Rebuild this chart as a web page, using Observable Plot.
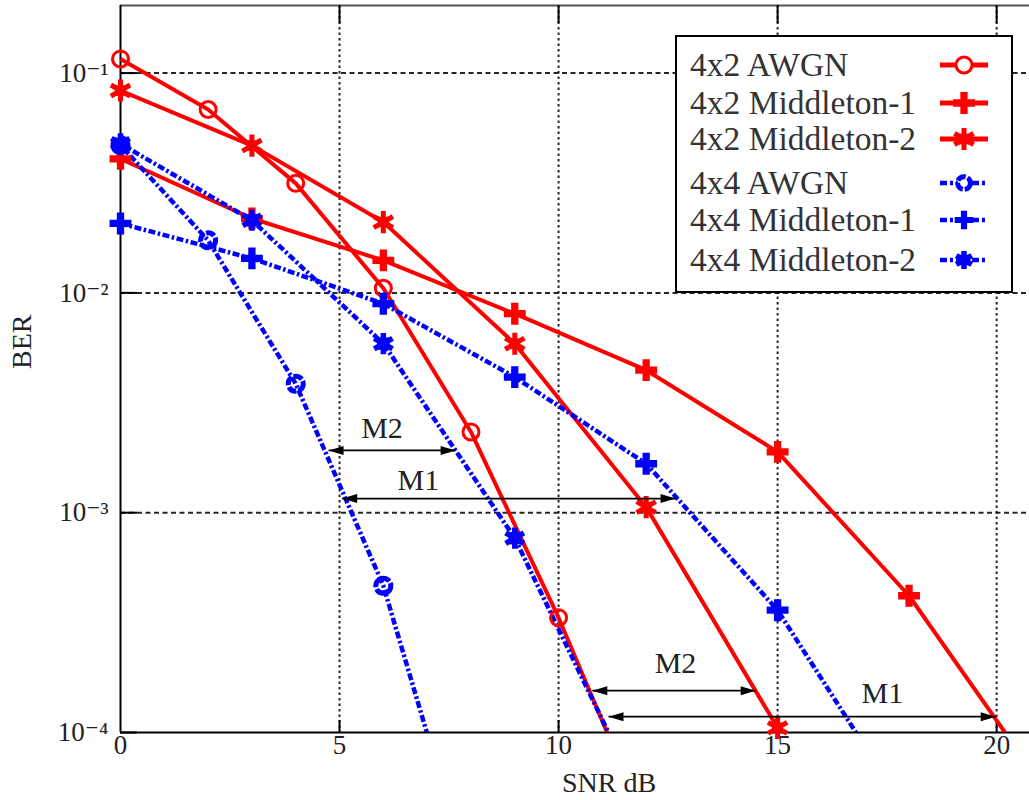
<!DOCTYPE html>
<html><head><meta charset="utf-8">
<script src="https://cdn.jsdelivr.net/npm/d3@7"></script>
<script src="https://cdn.jsdelivr.net/npm/@observablehq/plot@0.6"></script>
<style>
html,body{margin:0;padding:0;background:#fff;overflow:hidden;}
#wrap{position:relative;width:1029px;height:800px;}
#legend{position:absolute;left:675px;top:35px;}
</style></head>
<body><div id="wrap"><div id="chart"></div><svg id="legend" width="338" height="258"></svg></div>
<script>
// ---------- data ----------
const seriesNames = ["4x2 AWGN","4x2 Middleton-1","4x2 Middleton-2","4x4 AWGN","4x4 Middleton-1","4x4 Middleton-2"];
const snr4x2Awgn = [0,2,4,6,8,10,12];
const ber4x2Awgn = [0.116,0.0683,0.0315,0.0105,0.00233,0.000333,0.000038];
const snr4x2M1 = [0,3,6,9,12,15,18,21];
const ber4x2M1 = [0.0407,0.0218,0.01406,0.00804,0.00445,0.00189,0.000419,0.000059];
const snr4x2M2 = [0,3,6,9,12,15];
const ber4x2M2 = [0.0833,0.0468,0.021,0.00587,0.00106,0.000105];
const snr4x4Awgn = [0,2,4,6,8];
const ber4x4Awgn = [0.047,0.01734,0.00386,0.000465,0.000021];
const snr4x4M1 = [0,3,6,9,12,15,18];
const ber4x4M1 = [0.0207,0.01435,0.00893,0.00414,0.00167,0.00036,0.000042];
const snr4x4M2 = [0,3,6,9,12];
const ber4x4M2 = [0.0477,0.0214,0.00588,0.000766,0.000044];

const xTickValues = [0,5,10,15,20];
const xTickLabels = ["0","5","10","15","20"];
const yTickValues = [1e-1,1e-2,1e-3,1e-4];
const yTickLabels = ["10\u207B\u00B9","10\u207B\u00B2","10\u207B\u00B3","10\u207B\u2074"];
const xLabel = "SNR dB";
const yLabel = "BER";

// gap annotations (double arrows)
const gapLabels = ["M2","M1","M2","M1"];
const gapX1 = [4.75,5.06,10.77,11.14];
const gapX2 = [7.65,12.67,14.5,19.98];
const gapY  = [0.00192,0.00116,0.000155,0.000118];
const gapLabelX = [5.97,6.8,12.67,17.39];
const gapLabelY = [0.00242,0.0014,0.000207,0.000151];

// ---------- build ----------
const seriesX = [snr4x2Awgn,snr4x2M1,snr4x2M2,snr4x4Awgn,snr4x4M1,snr4x4M2];
const seriesY = [ber4x2Awgn,ber4x2M1,ber4x2M2,ber4x4Awgn,ber4x4M1,ber4x4M2];
const rows = seriesNames.flatMap((s,k)=>seriesX[k].map((x,i)=>({series:s,k,x,y:seriesY[k][i]})));
const gaps = gapLabels.map((l,i)=>({label:l,x1:gapX1[i],x2:gapX2[i],y:gapY[i],lx:gapLabelX[i],ly:gapLabelY[i]}));

const W=1029,H=800,mL=120,mT=5,mB=68,mR=0;
const plotW=W-mL-mR, plotH=H-mT-mB;
const xDomain=[0,20.75], yDomain=[1e-4,0.203];
const RED="#ff0000", BLUE="#0000ff", INK="#222";
const FONT="'Liberation Serif','DejaVu Serif',serif";
const blueDash="7,2.5,2.5,2.5";

const visible = d => d.y>=yDomain[0] && d.x<=xDomain[1];
const ofSeries = k => rows.filter(d=>d.k===k && visible(d));

const arrowHead = {draw(ctx){ctx.moveTo(0,0);ctx.lineTo(-15,-4.5);ctx.lineTo(-15,4.5);ctx.closePath();}};

const markerStyles = [
  [{symbol:"circle", r:8, stroke:RED, strokeWidth:3, fill:"none"}],
  [{symbol:"cross", r:9.2, fill:RED}],
  [{symbol:"square", r:6, fill:RED}, {symbol:"asterisk", r:10.5, stroke:RED, strokeWidth:5}],
  [{symbol:"circle", r:7.5, stroke:BLUE, strokeWidth:5, fill:"none", strokeDasharray:"9,2"}],
  [{symbol:"cross", r:9.2, fill:BLUE}],
  [{symbol:"square", r:7, fill:BLUE}, {symbol:"asterisk", r:10, stroke:BLUE, strokeWidth:5.5}]
];

const chart = Plot.plot({
  width:W, height:H, marginLeft:mL, marginTop:mT, marginBottom:mB, marginRight:mR,
  style:{fontFamily:FONT, background:"#fff", color:INK},
  x:{domain:xDomain},
  y:{type:"log", domain:yDomain},
  marks:[
    // grid
    Plot.ruleX(xTickValues.slice(1), {stroke:"#000", strokeWidth:2, strokeDasharray:"2.5,3", strokeOpacity:0.85}),
    Plot.ruleY(yTickValues.slice(0,3), {stroke:"#000", strokeWidth:2, strokeDasharray:"5,3.5", strokeOpacity:0.85}),
    // axes labels
    Plot.axisX({ticks:xTickValues, tickFormat:d=>xTickLabels[xTickValues.indexOf(d)], tickSize:0, tickPadding:2, fontSize:27, fill:INK, label:null}),
    Plot.axisY({ticks:yTickValues, tickFormat:d=>yTickLabels[yTickValues.indexOf(d)], tickSize:0, tickPadding:12, fontSize:27, fill:INK, label:null}),
    // frame
    Plot.ruleY([yDomain[1]], {stroke:"#555", strokeWidth:2}),
    Plot.ruleY([yDomain[0]], {stroke:"#000", strokeWidth:2}),
    Plot.ruleX([xDomain[0]], {stroke:"#000", strokeWidth:2}),
    // inward ticks
    Plot.ruleX(xTickValues.slice(1), {stroke:"#000", strokeWidth:2, insetTop:plotH-12}),
    Plot.ruleX(xTickValues.slice(1), {stroke:"#000", strokeWidth:2, insetBottom:plotH-18}),
    Plot.ruleY(yTickValues, {stroke:"#000", strokeWidth:2, insetRight:plotW-17}),
    // axis titles
    Plot.text([xLabel], {frameAnchor:"bottom", dx:34, dy:51, fontSize:28, fill:INK, lineAnchor:"middle"}),
    Plot.text([yLabel], {frameAnchor:"left", dx:-98, rotate:-90, fontSize:28, fill:INK, lineAnchor:"middle"}),
    // lines
    Plot.line(rows.filter(d=>d.k<3), {x:"x", y:"y", z:"series", stroke:RED, strokeWidth:4, strokeLinejoin:"round", strokeLinecap:"butt", clip:true}),
    Plot.line(rows.filter(d=>d.k>=3), {x:"x", y:"y", z:"series", stroke:BLUE, strokeWidth:4.5, strokeDasharray:blueDash, strokeLinecap:"butt", clip:true}),
    // markers
    ...markerStyles.flatMap((layers,k)=>layers.map(st=>Plot.dot(ofSeries(k), {x:"x", y:"y", ...st}))),
    // gap annotations
    Plot.link(gaps, {x1:"x1", x2:"x2", y1:"y", y2:"y", stroke:"#000", strokeWidth:1.8}),
    Plot.dot(gaps, {x:"x2", y:"y", symbol:arrowHead, fill:"#000", stroke:"none"}),
    Plot.dot(gaps, {x:"x1", y:"y", symbol:arrowHead, rotate:180, fill:"#000", stroke:"none"}),
    Plot.text(gaps, {x:"lx", y:"ly", text:"label", fontSize:30, fill:INK})
  ]
});
document.getElementById("chart").append(chart);

// ---------- legend ----------
const lg = d3.select("#legend");
lg.append("rect").attr("x",1).attr("y",1).attr("width",336).attr("height",256)
  .attr("fill","#fff").attr("stroke","#000").attr("stroke-width",2);
const rowY = [30,68,104,148,185,225];
const symMap = {circle:d3.symbolCircle, cross:d3.symbolCross, asterisk:d3.symbolAsterisk, square:d3.symbolSquare};
seriesNames.forEach((name,k)=>{
  const y = rowY[k], blue = k>=3, col = blue?BLUE:RED;
  lg.append("text").attr("x",15).attr("y",y+11).attr("font-family",FONT).attr("font-size",33.5)
    .attr("fill","#333").text(name);
  lg.append("line").attr("x1",265).attr("x2",313).attr("y1",y).attr("y2",y)
    .attr("stroke",col).attr("stroke-width",blue?4.5:5).attr("stroke-dasharray",blue?"7,3,3,3":null);
  markerStyles[k].forEach(st=>{
    const r = blue ? st.r*0.85 : st.r;
    lg.append("path").attr("transform",`translate(289,${y})`)
      .attr("d", d3.symbol(symMap[st.symbol], Math.PI*r*r)())
      .attr("fill", st.fill ? (st.fill==="none"?"#fff":st.fill) : "none")
      .attr("stroke", st.stroke||"none").attr("stroke-width", st.strokeWidth||0)
      .attr("stroke-dasharray", st.strokeDasharray||null);
  });
});
</script>
</body></html>
